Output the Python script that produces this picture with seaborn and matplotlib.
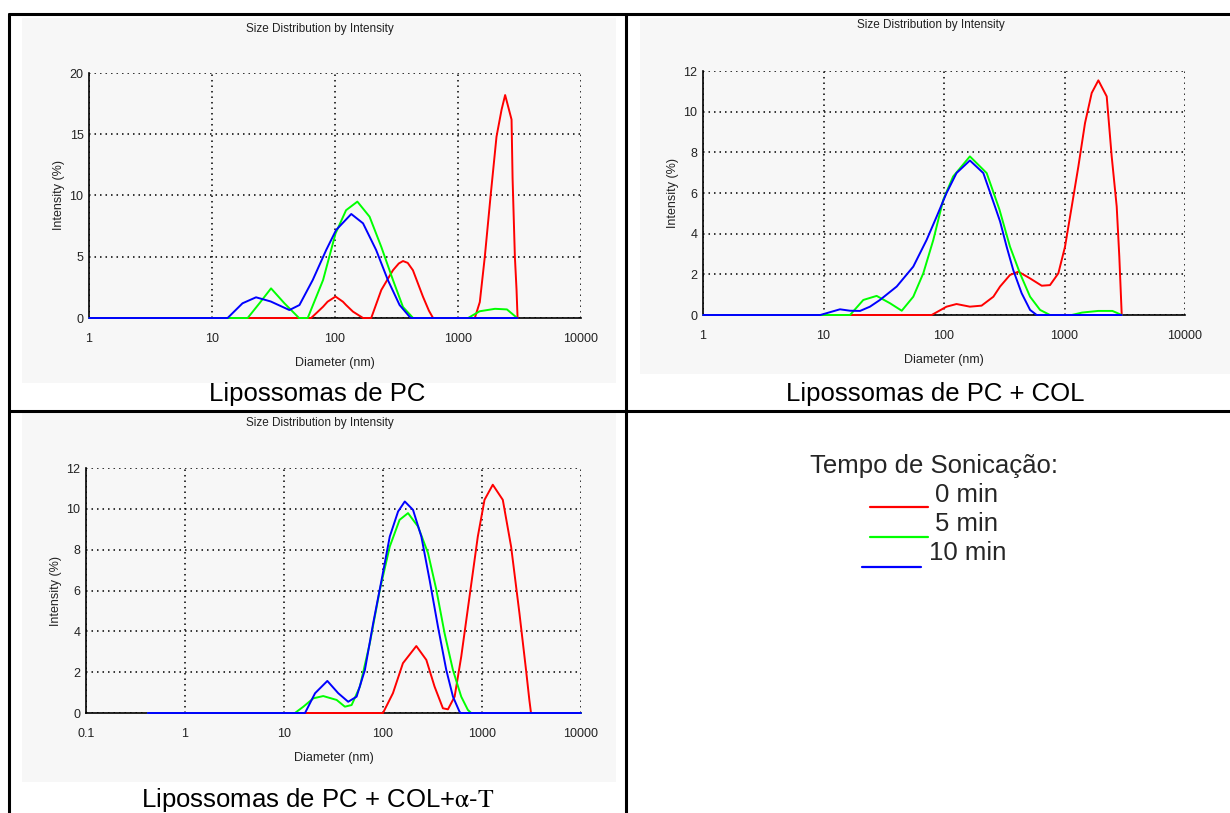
import matplotlib
matplotlib.use('Agg')
import matplotlib.pyplot as plt
from matplotlib import font_manager
from matplotlib.lines import Line2D
from matplotlib.patches import Rectangle
from matplotlib.ticker import LogLocator, MultipleLocator, NullFormatter
import numpy as np
import pandas as pd
import seaborn as sns

# Data: diameter (nm) and intensity (%) per sonication time

# Lipossomas de PC
pc_d_0 = [1, 20, 64, 80, 87, 101, 116, 123, 140, 169, 197, 238, 296, 330, 357,
          390, 430, 519, 580, 627, 1370, 1504, 1652, 1838, 2056, 2260, 2417,
          2725, 2778, 2900, 2992, 3050]
pc_i_0 = [0, 0, 0, 0.92, 1.33, 1.75, 1.33, 1.06, 0.52, 0, 0, 2.29, 3.9, 4.45,
          4.65, 4.5, 3.9, 1.74, 0.6, 0, 0, 1.3, 5.0, 9.9, 14.8, 17.0, 18.2,
          16.2, 11.4, 5.0, 2.3, 0]
pc_d_5 = [1, 19.5, 24.3, 30.2, 38.8, 51, 60, 80, 101, 123, 152, 191, 238, 296,
          357, 431, 1208, 1500, 2000, 2500, 3030]
pc_i_5 = [0, 0, 1.2, 2.42, 1.2, 0, 0, 3.1, 6.9, 8.8, 9.5, 8.27, 5.8, 3.1,
          0.9, 0, 0, 0.55, 0.75, 0.7, 0]
pc_d_10 = [1, 13.4, 17.7, 22.8, 30, 42.6, 51.4, 65.9, 84.8, 102, 135.6, 169,
           216, 269, 335, 404, 415, 3050]
pc_i_10 = [0, 0, 1.2, 1.69, 1.35, 0.65, 1.06, 3.1, 5.55, 7.18, 8.49, 7.73,
           5.55, 3.1, 1.06, 0.1, 0, 0]

# Lipossomas de PC + COL
col_d_0 = [1, 79, 105, 127, 164, 205, 257, 292, 353, 414, 518, 647, 758, 889,
           1010, 1148, 1303, 1480, 1682, 1910, 2240, 2464, 2712, 2850, 2985]
col_i_0 = [0, 0, 0.41, 0.54, 0.41, 0.46, 0.9, 1.4, 1.97, 2.13, 1.8, 1.44, 1.47,
           2.05, 3.36, 5.33, 7.3, 9.44, 10.92, 11.54, 10.75, 7.8, 5.33, 2.87, 0]
col_d_5 = [1, 16.6, 21.4, 27.6, 35.6, 44.6, 55.6, 67.3, 81.5, 98.6, 119, 164,
           226, 288, 353, 427, 518, 627, 758, 1148, 1400, 1900, 2500, 2985]
col_i_5 = [0, 0, 0.74, 0.94, 0.58, 0.21, 0.9, 2.05, 3.69, 5.67, 6.81, 7.8,
           6.98, 5.2, 3.36, 2.05, 0.9, 0.25, 0, 0, 0.12, 0.2, 0.2, 0]
col_d_10 = [1, 9.4, 13.7, 16.6, 20.1, 24.3, 29.4, 40.5, 55.6, 71.7, 86.9, 105,
            127, 164, 212, 265, 292, 331, 376, 441, 518, 588, 2985]
col_i_10 = [0, 0, 0.28, 0.21, 0.2, 0.41, 0.74, 1.4, 2.38, 3.69, 4.84, 6.0,
            6.98, 7.6, 6.98, 5.33, 4.6, 3.36, 2.2, 1.07, 0.25, 0, 0]

# Lipossomas de PC + COL + alpha-T
toc_d_0 = [0.42, 100, 126, 159, 217, 274, 332, 403, 453, 529, 617, 748, 907,
           1060, 1285, 1622, 1968, 2388, 2786, 3008, 3126, 10000]
toc_i_0 = [0, 0, 0.97, 2.44, 3.28, 2.6, 1.29, 0.23, 0.18, 0.8, 2.76, 5.7, 8.64,
           10.44, 11.18, 10.44, 8.15, 4.89, 2.1, 0.64, 0, 0]
toc_d_5 = [0.42, 12.9, 15.7, 19.8, 24.9, 34, 41.2, 48.2, 58.4, 73.6, 92.9, 117,
           147, 179, 226, 285, 346, 419, 509, 617, 720, 778, 10000]
toc_i_5 = [0, 0, 0.31, 0.72, 0.83, 0.64, 0.31, 0.39, 1.29, 3.42, 6.03, 8.15,
           9.46, 9.79, 9.13, 7.83, 6.03, 3.9, 2.1, 0.8, 0.15, 0, 0]
toc_d_10 = [0.42, 16.3, 20.6, 27.4, 35.3, 44.5, 54.1, 65.6, 79.6, 96.6, 117,
            142, 166, 201, 244, 296, 359, 436, 509, 593, 610, 10000]
toc_i_10 = [0, 0, 0.97, 1.57, 0.97, 0.55, 0.8, 2.1, 4.4, 6.5, 8.64, 9.87,
            10.36, 9.95, 8.64, 6.5, 4.23, 2.1, 0.8, 0.06, 0, 0]

times = ['0 min', '5 min', '10 min']
colors = ['#ff0000', '#00ff00', '#0000ff']
captions = ['Lipossomas de PC', 'Lipossomas de PC + COL',
            'Lipossomas de PC + COL+$\\mathrm{\\alpha}$-$\\mathrm{T}$']

W, H = 1230, 813

sns.set_style('white')
available = {f.name for f in font_manager.fontManager.ttflist}
narrow = 'Liberation Sans Narrow' if 'Liberation Sans Narrow' in available else 'Liberation Sans'
plt.rcParams['font.family'] = ['Liberation Sans', 'DejaVu Sans']

fig = plt.figure(figsize=(W / 100, H / 100), dpi=100)


def fx(x):
    return x / W


def fy(y):
    return 1 - y / H


def long_df(ds, ints):
    frames = []
    for t, d, i in zip(times, ds, ints):
        frames.append(pd.DataFrame({'Diameter': d, 'Intensity': i, 'Tempo': t}))
    return pd.concat(frames, ignore_index=True)


# light grey backgrounds of the pasted instrument charts
for x0, y0, x1, y1 in [(22, 18, 616, 383), (640, 18, 1230, 374), (22, 413, 616, 782)]:
    fig.add_artist(Rectangle((fx(x0), fy(y1)), fx(x1) - fx(x0), fy(y0) - fy(y1),
                             transform=fig.transFigure, facecolor='#f7f7f7',
                             edgecolor='none', zorder=0))

panels = [
    dict(box=(89, 73, 581, 318), data=long_df([pc_d_0, pc_d_5, pc_d_10], [pc_i_0, pc_i_5, pc_i_10]),
         xlim=(1, 10000), ymax=20, ystep=5, title=(320, 29), cap=(317, 394), cap_text=captions[0]),
    dict(box=(703, 71, 1185, 315), data=long_df([col_d_0, col_d_5, col_d_10], [col_i_0, col_i_5, col_i_10]),
         xlim=(1, 10000), ymax=12, ystep=2, title=(931, 25), cap=(935, 394), cap_text=captions[1]),
    dict(box=(86, 468, 581, 713), data=long_df([toc_d_0, toc_d_5, toc_d_10], [toc_i_0, toc_i_5, toc_i_10]),
         xlim=(0.1, 10000), ymax=12, ystep=2, title=(320, 423), cap=(318, 800), cap_text=captions[2]),
]

for p in panels:
    x0, y0, x1, y1 = p['box']
    ax = fig.add_axes([fx(x0), fy(y1), fx(x1) - fx(x0), fy(y0) - fy(y1)])
    ax.set_facecolor('none')
    sns.lineplot(data=p['data'], x='Diameter', y='Intensity', hue='Tempo',
                 hue_order=times, palette=colors, estimator=None, sort=False,
                 legend=False, linewidth=1.4, ax=ax)
    for ln in ax.get_lines():
        ln.set_clip_on(False)
        ln.set_zorder(4)
    ax.set_xscale('log')
    ax.set_xlim(*p['xlim'])
    ax.set_ylim(0, p['ymax'])
    decades = [10 ** k for k in range(int(np.log10(p['xlim'][0])), 5)]
    ax.set_xticks(decades)
    ax.set_xticklabels([('%g' % d) for d in decades])
    ax.xaxis.set_minor_locator(LogLocator(base=10, subs=np.arange(2, 10)))
    ax.xaxis.set_minor_formatter(NullFormatter())
    ax.yaxis.set_major_locator(MultipleLocator(p['ystep']))
    ax.yaxis.set_minor_locator(MultipleLocator(p['ystep'] / 2))
    ax.grid(True, which='major', color='black', linestyle=(0, (1, 2.6)), linewidth=1.1)
    ax.set_axisbelow(True)
    for s in ['top', 'right']:
        ax.spines[s].set_visible(False)
    for s in ['left', 'bottom']:
        ax.spines[s].set_color('black')
        ax.spines[s].set_linewidth(1.2)
    ax.tick_params(which='major', direction='inout', length=7, width=1.1, color='black',
                   labelsize=9)
    ax.tick_params(which='minor', direction='inout', length=6, width=1.1, color='black')
    ax.tick_params(axis='x', which='major', pad=7)
    ax.tick_params(axis='y', which='major', pad=0.5)
    for lab in ax.get_xticklabels() + ax.get_yticklabels():
        lab.set_family(narrow)
        lab.set_color('#222222')
    ax.set_xlabel('Diameter (nm)', family=narrow, fontsize=9, labelpad=9, color='#222222')
    ax.set_ylabel('Intensity (%)', family=narrow, fontsize=9, labelpad=3, color='#222222')

    fig.text(fx(p['title'][0]), fy(p['title'][1]), 'Size Distribution by Intensity',
             family=narrow, fontsize=8.5, ha='center', va='center', color='#222222')
    fig.text(fx(p['cap'][0]), fy(p['cap'][1]), p['cap_text'], fontsize=18.5,
             ha='center', va='center', color='black', math_fontfamily='stix')

# legend text block (a caption in the original table cell)
fig.text(fx(934), fy(466), 'Tempo de Sonica\u00e7\u00e3o:', fontsize=18.5, ha='center', va='center')
leg_rows = [(935, 495, 870, 928, 507), (935, 524, 870, 928, 537), (929, 553, 862, 921, 567)]
for t, c, (tx, ty, lx0, lx1, ly) in zip(times, colors, leg_rows):
    fig.text(fx(tx), fy(ty), t, fontsize=18.5, ha='left', va='center')
    fig.add_artist(Line2D([fx(lx0), fx(lx1)], [fy(ly), fy(ly)], color=c, linewidth=1.6,
                          transform=fig.transFigure))

# table borders
border = dict(color='black', linewidth=2.2, transform=fig.transFigure)
fig.add_artist(Line2D([fx(9), 1], [fy(14), fy(14)], **border))
fig.add_artist(Line2D([fx(9), 1], [fy(411), fy(411)], **border))
fig.add_artist(Line2D([fx(9), fx(9)], [fy(14), 0], **border))
fig.add_artist(Line2D([fx(626), fx(626)], [fy(14), 0], **border))

fig.savefig('out.png', dpi=100, facecolor='white')
